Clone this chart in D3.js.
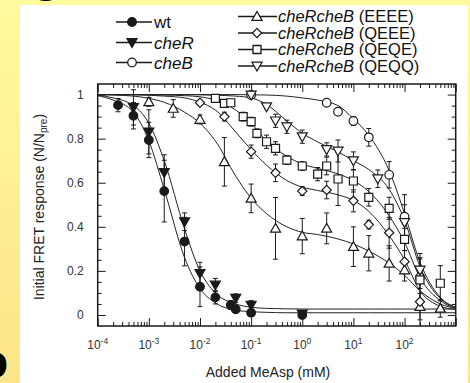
<!DOCTYPE html>
<html><head><meta charset="utf-8">
<script src="https://cdn.jsdelivr.net/npm/d3@7"></script>
<style>body{margin:0;background:#fff;} svg{display:block;}</style>
</head><body>
<svg id="c" width="470" height="383"></svg>
<script>
// ---------- data ----------
const xTickExps = [-4, -3, -2, -1, 0, 1, 2];
const yTickLabels = ["0", "0.2", "0.4", "0.6", "0.8", "1"];
const xLabel = "Added MeAsp (mM)";

// fit curve sample concentrations (mM) and values
const fitConc = [1e-4, 2e-4, 5e-4, 1e-3, 2e-3, 5e-3, 1e-2, 2e-2, 5e-2, 0.1, 0.2, 0.5, 1, 2, 5, 10, 20, 50, 100, 200, 500, 1000];
const fitWt   = [0.995, 0.975, 0.92, 0.79, 0.57, 0.26, 0.12, 0.055, 0.022, 0.015, 0.012, 0.01, 0.01, 0.01, 0.01, 0.01, 0.01, 0.01, 0.01, 0.01, 0.01, 0.01];
const fitCheR = [0.997, 0.985, 0.95, 0.87, 0.70, 0.39, 0.20, 0.10, 0.05, 0.035, 0.03, 0.028, 0.027, 0.027, 0.027, 0.027, 0.027, 0.027, 0.027, 0.027, 0.027, 0.027];
const fitCheB = [1, 1, 1, 1, 1, 1, 1, 1, 1, 0.999, 0.998, 0.993, 0.985, 0.975, 0.95, 0.89, 0.815, 0.655, 0.46, 0.24, 0.08, 0.035];
const fitEEEE = [1, 0.998, 0.993, 0.983, 0.965, 0.92, 0.87, 0.79, 0.63, 0.53, 0.46, 0.40, 0.375, 0.365, 0.345, 0.322, 0.29, 0.235, 0.18, 0.11, 0.05, 0.03];
const fitQEEE = [1, 1, 0.999, 0.997, 0.993, 0.985, 0.965, 0.93, 0.83, 0.75, 0.68, 0.61, 0.58, 0.565, 0.545, 0.52, 0.47, 0.36, 0.25, 0.11, 0.04, 0.025];
const fitQEQE = [1, 1, 1, 0.999, 0.998, 0.995, 0.99, 0.975, 0.93, 0.87, 0.79, 0.72, 0.685, 0.665, 0.64, 0.61, 0.56, 0.45, 0.33, 0.17, 0.065, 0.03];
const fitQEQQ = [1, 1, 1, 1, 1, 1, 0.999, 0.997, 0.993, 0.985, 0.955, 0.88, 0.825, 0.785, 0.74, 0.70, 0.66, 0.57, 0.43, 0.22, 0.075, 0.035];

// measured points
const wtConc = [2.5e-4, 5e-4, 1e-3, 2e-3, 5e-3, 1e-2, 2e-2, 4e-2, 5e-2, 0.1, 1];
const wtVal  = [0.952, 0.904, 0.794, 0.562, 0.333, 0.128, 0.08, 0.045, 0.026, 0.01, 0.0];
const wtErr  = [0.03, 0.06, 0.08, 0.14, 0.11, 0.09, 0.03, 0.02, 0.015, 0.015, 0.01];

const cheRConc = [5e-4, 1e-3, 2e-3, 5e-3, 1e-2, 2e-2, 5e-2, 0.1, 1];
const cheRVal  = [0.942, 0.831, 0.647, 0.423, 0.189, 0.136, 0.076, 0.045, 0.005];
const cheRErr  = [0.08, 0.1, 0.08, 0.04, 0.05, 0.03, 0.02, 0.02, 0.01];

const cheBConc = [0.1, 3, 5, 10, 20, 50, 100, 200];
const cheBVal  = [0.998, 0.963, 0.922, 0.88, 0.806, 0.636, 0.446, 0.17];
const cheBErr  = [0.01, 0.01, 0.01, 0.02, 0.04, 0.06, 0.1, 0.05];

const eeeeConc = [1e-3, 3e-3, 1e-2, 3e-2, 0.1, 0.3, 1, 3, 10, 20, 50, 100, 200, 500];
const eeeeVal  = [0.967, 0.937, 0.887, 0.695, 0.529, 0.393, 0.358, 0.393, 0.31, 0.28, 0.234, 0.204, 0.038, 0.03];
const eeeeErr  = [0.02, 0.04, 0.02, 0.11, 0.065, 0.14, 0.08, 0.07, 0.09, 0.08, 0.08, 0.05, 0.06, 0.04];

const qeeeConc = [0.01, 0.03, 0.1, 0.3, 1, 3, 10, 20, 50, 100, 200];
const qeeeVal  = [0.963, 0.90, 0.741, 0.645, 0.562, 0.567, 0.518, 0.41, 0.373, 0.242, 0.06];
const qeeeErr  = [0.01, 0.02, 0.03, 0.04, 0.02, 0.04, 0.05, 0.02, 0.07, 0.05, 0.2];

const qeqeConc = [0.02, 0.03, 0.04, 0.07, 0.1, 0.13, 0.2, 0.3, 0.5, 1, 2, 3, 5, 10, 20, 50, 100, 200, 500];
const qeqeVal  = [0.983, 0.96, 0.963, 0.90, 0.877, 0.824, 0.786, 0.756, 0.703, 0.676, 0.639, 0.676, 0.617, 0.608, 0.534, 0.484, 0.343, 0.159, 0.144];
const qeqeErr  = [0.01, 0.01, 0.01, 0.02, 0.02, 0.02, 0.03, 0.03, 0.02, 0.02, 0.03, 0.04, 0.12, 0.05, 0.04, 0.05, 0.05, 0.12, 0.08];

const qeqqConc = [0.1, 0.2, 0.3, 0.5, 1, 3, 5, 10, 30, 100, 200];
const qeqqVal  = [0.998, 0.945, 0.881, 0.854, 0.809, 0.751, 0.744, 0.70, 0.618, 0.42, 0.204];
const qeqqErr  = [0.01, 0.01, 0.03, 0.03, 0.03, 0.03, 0.05, 0.04, 0.04, 0.08, 0.05];

const leftLegend = [
  {name: "wt", italic: false, rest: "", shape: "circle", fill: true},
  {name: "cheR", italic: true, rest: "", shape: "down", fill: true},
  {name: "cheB", italic: true, rest: "", shape: "circle", fill: false}
];
const rightLegend = [
  {name: "cheRcheB", italic: true, rest: " (EEEE)", shape: "up", fill: false},
  {name: "cheRcheB", italic: true, rest: " (QEEE)", shape: "diamond", fill: false},
  {name: "cheRcheB", italic: true, rest: " (QEQE)", shape: "square", fill: false},
  {name: "cheRcheB", italic: true, rest: " (QEQQ)", shape: "down", fill: false}
];

// ---------- drawing ----------
const svg = d3.select("#c");
const W = 470, H = 383;
const defs = svg.append("defs");
const grad = defs.append("linearGradient").attr("id", "yb").attr("x1", 0).attr("y1", 0).attr("x2", 0).attr("y2", 1);
grad.append("stop").attr("offset", "0%").attr("stop-color", "#fffa9f");
grad.append("stop").attr("offset", "100%").attr("stop-color", "#fde48a");
svg.append("rect").attr("width", W).attr("height", H).attr("fill", "url(#yb)");
svg.append("rect").attr("x", 20).attr("y", 5).attr("width", 448).attr("height", 378).attr("fill", "#fff");

// cropped slide glyphs (cut off by the slide edge in the reference too)
svg.append("text").attr("x", 36).attr("y", -6).attr("font-family", "DejaVu Serif").attr("font-weight", "bold")
  .attr("font-size", 34).attr("fill", "#000").text("g");
svg.append("text").attr("x", -24).attr("y", 377).attr("font-family", "DejaVu Serif").attr("font-weight", "bold")
  .attr("font-size", 46).attr("fill", "#000").text("b");

const L = 97.7, R = 455.7, T = 84, B = 326;
const x = d3.scaleLog().domain([1e-4, 1e3]).range([L, R]);
const y = d3.scaleLinear().domain([-0.05, 1.048]).range([B, T]);

defs.append("clipPath").attr("id", "pc").append("rect").attr("x", L).attr("y", T).attr("width", R - L).attr("height", B - T);

const ink = "#1a1a1a";
const font = "Liberation Sans, Arial, sans-serif";

// axes
const majorX = d3.range(-4, 4).map(e => Math.pow(10, e));
const minorX = [];
for (let e = -4; e < 3; e++) for (let k = 2; k <= 9; k++) minorX.push(k * Math.pow(10, e));
const majorY = yTickLabels.map(Number);
const minorY = d3.range(0, 21).map(i => i * 0.05).filter(v => !majorY.some(m => Math.abs(m - v) < 1e-9));

function styleAxis(g) {
  g.select(".domain").remove();
  g.selectAll("line").attr("stroke", ink).attr("stroke-width", 1);
}
svg.append("g").attr("transform", `translate(0,${B})`)
  .call(d3.axisBottom(x).tickValues(majorX).tickSize(-8).tickFormat(() => ""))
  .call(styleAxis);
svg.append("g").attr("transform", `translate(0,${B})`)
  .call(d3.axisBottom(x).tickValues(minorX).tickSize(-4).tickFormat(() => "")).call(styleAxis);
svg.append("g").attr("transform", `translate(0,${T})`)
  .call(d3.axisTop(x).tickValues(majorX).tickSize(-8).tickFormat(() => "")).call(styleAxis);
svg.append("g").attr("transform", `translate(0,${T})`)
  .call(d3.axisTop(x).tickValues(minorX).tickSize(-4).tickFormat(() => "")).call(styleAxis);

const yAx = svg.append("g").attr("transform", `translate(${L},0)`)
  .call(d3.axisLeft(y).tickValues(majorY).tickSize(-8).tickPadding(14).tickFormat((d, i) => yTickLabels[i]));
yAx.call(styleAxis);
yAx.selectAll("text").attr("font-family", font).attr("font-size", 12).attr("fill", "#333");
svg.append("g").attr("transform", `translate(${L},0)`)
  .call(d3.axisLeft(y).tickValues(minorY).tickSize(-4).tickFormat(() => "")).call(styleAxis);
svg.append("g").attr("transform", `translate(${R},0)`)
  .call(d3.axisRight(y).tickValues(majorY).tickSize(-8).tickFormat(() => "")).call(styleAxis);
svg.append("g").attr("transform", `translate(${R},0)`)
  .call(d3.axisRight(y).tickValues(minorY).tickSize(-4).tickFormat(() => "")).call(styleAxis);

// x tick labels with superscripts
const xl = svg.append("g");
xTickExps.forEach(e => {
  const t = xl.append("text").attr("x", x(Math.pow(10, e))).attr("y", B + 23)
    .attr("text-anchor", "middle").attr("font-family", font).attr("font-size", 12).attr("fill", "#333");
  t.append("tspan").text("10");
  t.append("tspan").attr("dy", -5).attr("font-size", 8.5).text(String(e));
});

// frame
svg.append("rect").attr("x", L).attr("y", T).attr("width", R - L).attr("height", B - T)
  .attr("fill", "none").attr("stroke", ink).attr("stroke-width", 1.5);

// axis titles
svg.append("text").attr("x", 268).attr("y", 377).attr("text-anchor", "middle")
  .attr("font-family", font).attr("font-size", 14).attr("fill", "#222").text(xLabel);
const yt = svg.append("text").attr("transform", "translate(44,207) rotate(-90)").attr("text-anchor", "middle")
  .attr("font-family", font).attr("font-size", 14).attr("fill", "#222");
yt.append("tspan").text("Initial FRET response (N/N");
yt.append("tspan").attr("font-size", 10).attr("dy", 3).text("pre");
yt.append("tspan").attr("dy", -3).text(")");

// marker paths
function markerPath(shape) {
  if (shape === "circle") return d3.arc()({innerRadius: 0, outerRadius: 4.3, startAngle: 0, endAngle: 2 * Math.PI});
  if (shape === "square") return "M-4,-4H4V4H-4Z";
  if (shape === "diamond") return "M0,-4.6L4.6,0L0,4.6L-4.6,0Z";
  if (shape === "up") return "M0,-5L5,3.8L-5,3.8Z";
  if (shape === "down") return "M0,5L5,-3.8L-5,-3.8Z";
}

const plot = svg.append("g").attr("clip-path", "url(#pc)");
const line = d3.line().x(d => x(d[0])).y(d => y(d[1])).curve(d3.curveMonotoneX);
const fits = [fitWt, fitCheR, fitCheB, fitEEEE, fitQEEE, fitQEQE, fitQEQQ];
fits.forEach(f => {
  plot.append("path").attr("d", line(fitConc.map((c, i) => [c, f[i]])))
    .attr("fill", "none").attr("stroke", "#222").attr("stroke-width", 1);
});

const series = [
  {c: wtConc, v: wtVal, e: wtErr, shape: "circle", fill: true},
  {c: cheRConc, v: cheRVal, e: cheRErr, shape: "down", fill: true},
  {c: cheBConc, v: cheBVal, e: cheBErr, shape: "circle", fill: false},
  {c: eeeeConc, v: eeeeVal, e: eeeeErr, shape: "up", fill: false},
  {c: qeeeConc, v: qeeeVal, e: qeeeErr, shape: "diamond", fill: false},
  {c: qeqeConc, v: qeqeVal, e: qeqeErr, shape: "square", fill: false},
  {c: qeqqConc, v: qeqqVal, e: qeqqErr, shape: "down", fill: false}
];
series.forEach(s => {
  s.c.forEach((c, i) => {
    const px = x(c), y1 = y(s.v[i] - s.e[i]), y2 = y(s.v[i] + s.e[i]);
    plot.append("line").attr("x1", px).attr("x2", px).attr("y1", y1).attr("y2", y2).attr("stroke", ink).attr("stroke-width", 1);
    [y1, y2].forEach(yy => plot.append("line").attr("x1", px - 2.5).attr("x2", px + 2.5).attr("y1", yy).attr("y2", yy)
      .attr("stroke", ink).attr("stroke-width", 1));
  });
});
series.forEach(s => {
  s.c.forEach((c, i) => {
    plot.append("path").attr("d", markerPath(s.shape)).attr("transform", `translate(${x(c)},${y(s.v[i])})`)
      .attr("fill", s.fill ? ink : "#fff").attr("stroke", ink).attr("stroke-width", 1.2);
  });
});

// legends
function drawLegend(items, x0, x1, xm, xt, ys, fs) {
  items.forEach((it, i) => {
    const yy = ys[i];
    svg.append("line").attr("x1", x0).attr("x2", x1).attr("y1", yy).attr("y2", yy).attr("stroke", ink).attr("stroke-width", 1.5);
    svg.append("path").attr("d", markerPath(it.shape)).attr("transform", `translate(${xm},${yy})`)
      .attr("fill", it.fill ? ink : "#fff").attr("stroke", ink).attr("stroke-width", 1.3);
    const t = svg.append("text").attr("x", xt).attr("y", yy).attr("dy", "0.36em")
      .attr("font-family", font).attr("font-size", fs).attr("fill", "#111");
    t.append("tspan").attr("font-style", it.italic ? "italic" : "normal").text(it.name);
    if (it.rest) t.append("tspan").text(it.rest);
  });
}
drawLegend(leftLegend, 116, 152, 132, 154, [22, 42.5, 62.5], 17);
drawLegend(rightLegend, 238, 277, 257, 278, [16.5, 33, 49.5, 66], 16.5);
</script>
</body></html>
